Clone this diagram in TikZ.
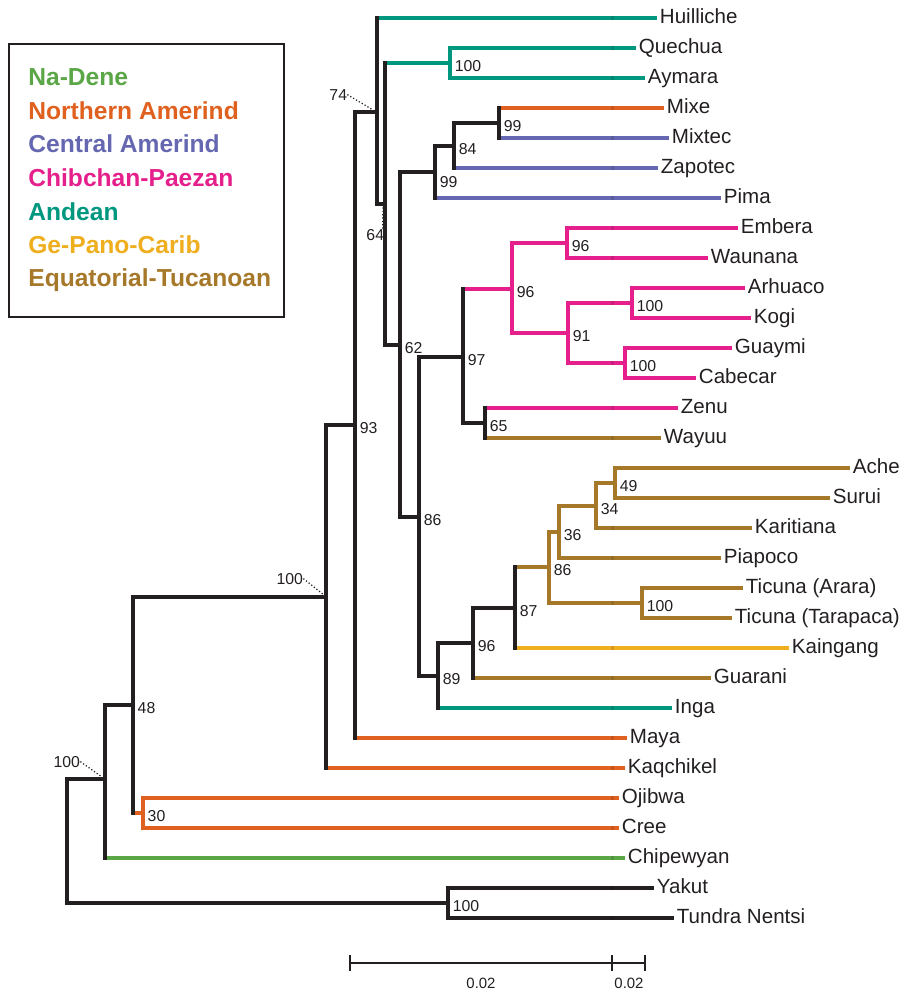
\documentclass[tikz,border=0pt]{standalone}
\usepackage{fontspec}
\setmainfont{Liberation Sans}
\usetikzlibrary{calc}

\definecolor{treeblack}{HTML}{231F20}
\definecolor{nadene}{HTML}{5BA646}
\definecolor{northam}{HTML}{E0611F}
\definecolor{centam}{HTML}{6568B0}
\definecolor{chibchan}{HTML}{E5208C}
\definecolor{andean}{HTML}{00977F}
\definecolor{gepano}{HTML}{EFAE1E}
\definecolor{equat}{HTML}{A6792A}

\tikzset{
  br/.style={line width=1.9pt, line cap=rect},
  taxon/.style={anchor=west, inner xsep=2.6pt, inner ysep=0pt, text height=8.5pt, text depth=2.5pt, font=\fontsize{11.7}{13}\selectfont, text=treeblack},
  boot/.style={anchor=west, inner sep=0pt, xshift=2.5pt, yshift=-1.5pt, font=\fontsize{9}{10}\selectfont, text=treeblack},
  grp/.style={anchor=base west, inner sep=0pt, font=\fontsize{14}{15}\selectfont\bfseries},
  lead/.style={treeblack, line width=0.7pt, dash pattern=on 0.7pt off 1.2pt},
}

\begin{document}
\begin{tikzpicture}[x=0.02cm, y=-0.02cm]
  \useasboundingbox (0,0) rectangle (900,989);

  % legend
  \draw[treeblack, line width=0.8pt] (9,44) rectangle (284,317);
  \node[grp, text=nadene]   (lgnadene)   at (28,86)  {Na-Dene};
  \node[grp, text=northam]  (lgnortham)  at (28,120) {Northern Amerind};
  \node[grp, text=centam]   (lgcentam)   at (28,153) {Central Amerind};
  \node[grp, text=chibchan] (lgchibchan) at (28,187) {Chibchan-Paezan};
  \node[grp, text=andean]   (lgandean)   at (28,221) {Andean};
  \node[grp, text=gepano]   (lggepano)   at (28,254) {Ge-Pano-Carib};
  \node[grp, text=equat]    (lgequat)    at (28,287) {Equatorial-Tucanoan};

  % taxa (line end, row)
  \node[taxon] (huil) at (655,18)  {Huilliche};
  \node[taxon] (quec) at (634,48)  {Quechua};
  \node[taxon] (ayma) at (643,78)  {Aymara};
  \node[taxon] (mixe) at (662,108) {Mixe};
  \node[taxon] (mixt) at (667,138) {Mixtec};
  \node[taxon] (zapo) at (656,168) {Zapotec};
  \node[taxon] (pima) at (719,198) {Pima};
  \node[taxon] (embe) at (736,228) {Embera};
  \node[taxon] (waun) at (706,258) {Waunana};
  \node[taxon] (arhu) at (743,288) {Arhuaco};
  \node[taxon] (kogi) at (749,318) {Kogi};
  \node[taxon] (guay) at (730,348) {Guaymi};
  \node[taxon] (cabe) at (694,378) {Cabecar};
  \node[taxon] (zenu) at (676,408) {Zenu};
  \node[taxon] (wayu) at (659,438) {Wayuu};
  \node[taxon] (ache) at (848,468) {Ache};
  \node[taxon] (suru) at (828,498) {Surui};
  \node[taxon] (kari) at (750,528) {Karitiana};
  \node[taxon] (piap) at (719,558) {Piapoco};
  \node[taxon] (tica) at (741,588) {Ticuna (Arara)};
  \node[taxon] (tict) at (730,618) {Ticuna (Tarapaca)};
  \node[taxon] (kain) at (787,648) {Kaingang};
  \node[taxon] (guar) at (709,678) {Guarani};
  \node[taxon] (inga) at (670,708) {Inga};
  \node[taxon] (maya) at (625,738) {Maya};
  \node[taxon] (kaqc) at (623,768) {Kaqchikel};
  \node[taxon] (ojib) at (617,798) {Ojibwa};
  \node[taxon] (cree) at (617,828) {Cree};
  \node[taxon] (chip) at (623,858) {Chipewyan};
  \node[taxon] (yaku) at (652,888) {Yakut};
  \node[taxon] (tund) at (672,918) {Tundra Nentsi};

  % internal nodes
  \coordinate (root) at (67,842);
  \coordinate (nB)   at (105,779);
  \coordinate (n48)  at (133,705);
  \coordinate (n30)  at (143,813);
  \coordinate (nC)   at (326,597);
  \coordinate (n93)  at (355,425);
  \coordinate (n74)  at (377,112);
  \coordinate (n64)  at (385,204);
  \coordinate (nQA)  at (450,63);
  \coordinate (n62)  at (400,345);
  \coordinate (n99a) at (435,172);
  \coordinate (n84)  at (454,146);
  \coordinate (n99b) at (499,123);
  \coordinate (n86)  at (419,517);
  \coordinate (n97)  at (463,357);
  \coordinate (n96a) at (512,289);
  \coordinate (n96b) at (567,243);
  \coordinate (n91)  at (568,333);
  \coordinate (nAK)  at (632,303);
  \coordinate (nGC)  at (625,363);
  \coordinate (n65)  at (485,423);
  \coordinate (n89)  at (438,676);
  \coordinate (n96c) at (473,643);
  \coordinate (n87)  at (515,608);
  \coordinate (n86b) at (549,567);
  \coordinate (n36)  at (559,532);
  \coordinate (n34)  at (596,506);
  \coordinate (n49)  at (615,483);
  \coordinate (nTic) at (642,603);
  \coordinate (nYT)  at (448,903);

  % branches
  \foreach \p/\c/\col in {root/nB/treeblack, root/nYT/treeblack,
      nB/n48/treeblack, nB/chip/nadene, n48/nC/treeblack, n48/n30/northam,
      n30/ojib/northam, n30/cree/northam, nC/n93/treeblack, nC/kaqc/northam,
      n93/n74/treeblack, n93/maya/northam, n74/huil/andean, n74/n64/treeblack,
      n64/nQA/andean, n64/n62/treeblack, nQA/quec/andean, nQA/ayma/andean,
      n62/n99a/treeblack, n62/n86/treeblack, n99a/n84/treeblack, n99a/pima/centam,
      n84/n99b/treeblack, n84/zapo/centam, n99b/mixe/northam, n99b/mixt/centam,
      n86/n97/treeblack, n86/n89/treeblack, n97/n96a/chibchan, n97/n65/treeblack,
      n96a/n96b/chibchan, n96a/n91/chibchan, n96b/embe/chibchan, n96b/waun/chibchan,
      n91/nAK/chibchan, n91/nGC/chibchan, nAK/arhu/chibchan, nAK/kogi/chibchan,
      nGC/guay/chibchan, nGC/cabe/chibchan, n65/zenu/chibchan, n65/wayu/equat,
      n89/n96c/treeblack, n89/inga/andean, n96c/n87/treeblack, n96c/guar/equat,
      n87/n86b/equat, n87/kain/gepano, n86b/n36/equat, n86b/nTic/equat,
      n36/n34/equat, n36/piap/equat, n34/n49/equat, n34/kari/equat,
      n49/ache/equat, n49/suru/equat, nTic/tica/equat, nTic/tict/equat,
      nYT/yaku/treeblack, nYT/tund/treeblack}
    \draw[br, \col] (\p |- \c) -- (\c);

  \foreach \n/\a/\b/\col in {root/nB/nYT/treeblack, nB/n48/chip/treeblack,
      n48/nC/n30/treeblack, n30/ojib/cree/northam, nC/n93/kaqc/treeblack,
      n93/n74/maya/treeblack, n74/huil/n64/treeblack, n64/nQA/n62/treeblack,
      nQA/quec/ayma/andean, n62/n99a/n86/treeblack, n99a/n84/pima/treeblack,
      n84/n99b/zapo/treeblack, n99b/mixe/mixt/treeblack, n86/n97/n89/treeblack,
      n97/n96a/n65/treeblack, n96a/n96b/n91/chibchan, n96b/embe/waun/chibchan,
      n91/nAK/nGC/chibchan, nAK/arhu/kogi/chibchan, nGC/guay/cabe/chibchan,
      n65/zenu/wayu/treeblack, n89/n96c/inga/treeblack, n96c/n87/guar/treeblack,
      n87/n86b/kain/treeblack, n86b/n36/nTic/equat, n36/n34/piap/equat,
      n34/n49/kari/equat, n49/ache/suru/equat, nTic/tica/tict/equat,
      nYT/yaku/tund/treeblack}
    \draw[br, \col] (\n |- \a) -- (\n |- \b);

  % segment marks
  \foreach \yy/\col in {18/andean, 48/andean, 78/andean, 108/northam, 138/centam,
      168/centam, 198/centam, 228/chibchan, 258/chibchan, 303/chibchan,
      363/chibchan, 408/chibchan, 438/equat, 528/equat, 558/equat, 603/equat,
      648/gepano, 678/equat, 708/andean, 738/northam, 768/northam, 798/northam,
      828/northam, 858/nadene, 888/treeblack, 918/treeblack}
    \fill[\col!88!black] (611,\yy-2.2) rectangle (613.5,\yy+2.2);
  \foreach \yy in {888,918}
    \fill[treeblack] (536,\yy-2.2) rectangle (538.5,\yy+2.2);

  % bootstrap values
  \node[boot] (bQA)  at (nQA)  {100};
  \node[boot] (b99b) at (n99b) {99};
  \node[boot] (b84)  at (n84)  {84};
  \node[boot, yshift=-4pt] (b99a) at (n99a) {99};
  \node[boot] (b62)  at (n62)  {62};
  \node[boot] (b93)  at (n93)  {93};
  \node[boot] (b86)  at (n86)  {86};
  \node[boot] (b97)  at (n97)  {97};
  \node[boot] (b96a) at (n96a) {96};
  \node[boot] (b96b) at (n96b) {96};
  \node[boot] (b91)  at (n91)  {91};
  \node[boot] (bAK)  at (nAK)  {100};
  \node[boot] (bGC)  at (nGC)  {100};
  \node[boot] (b65)  at (n65)  {65};
  \node[boot] (b49)  at (n49)  {49};
  \node[boot] (b34)  at (n34)  {34};
  \node[boot] (b36)  at (n36)  {36};
  \node[boot] (b86b) at (n86b) {86};
  \node[boot] (bTic) at (nTic) {100};
  \node[boot] (b87)  at (n87)  {87};
  \node[boot] (b96c) at (n96c) {96};
  \node[boot] (b89)  at (n89)  {89};
  \node[boot] (b48)  at (n48)  {48};
  \node[boot] (b30)  at (n30)  {30};
  \node[boot] (bYT)  at (nYT)  {100};

  % values on leader lines
  \node[boot, anchor=east, xshift=0pt, yshift=0pt] (b74) at (343,92) {74};
  \draw[lead] (b74.east) -- ([shift={(-4,-2)}]n74);
  \node[boot, anchor=east, xshift=0pt, yshift=0pt] (b64) at (380,232) {64};
  \draw[lead] ([xshift=-1pt]b64.north east) -- ([shift={(-2,1)}]n64);
  \node[boot, anchor=east, xshift=0pt, yshift=0pt] (bC) at (299,576) {100};
  \draw[lead] (bC.east) -- ([shift={(-2,-2)}]nC);
  \node[boot, anchor=east, xshift=0pt, yshift=0pt] (bB) at (76,759) {100};
  \draw[lead] (bB.east) -- ([shift={(-3,-2)}]nB);

  % scale bar
  \coordinate (sbl) at (350,963);
  \coordinate (sbm) at (612,963);
  \coordinate (sbr) at (645,963);
  \draw[treeblack, line width=0.7pt] (sbl) -- (sbr);
  \foreach \s in {sbl,sbm,sbr}
    \draw[treeblack, line width=0.7pt] ([yshift=-4.5pt]\s) -- ([yshift=4.5pt]\s);
  \node[font=\fontsize{8.5}{9}\selectfont, text=treeblack, inner sep=0pt] (sc1) at (481,983) {0.02};
  \node[font=\fontsize{8.5}{9}\selectfont, text=treeblack, inner sep=0pt] (sc2) at (629,983) {0.02};
\end{tikzpicture}
\end{document}
